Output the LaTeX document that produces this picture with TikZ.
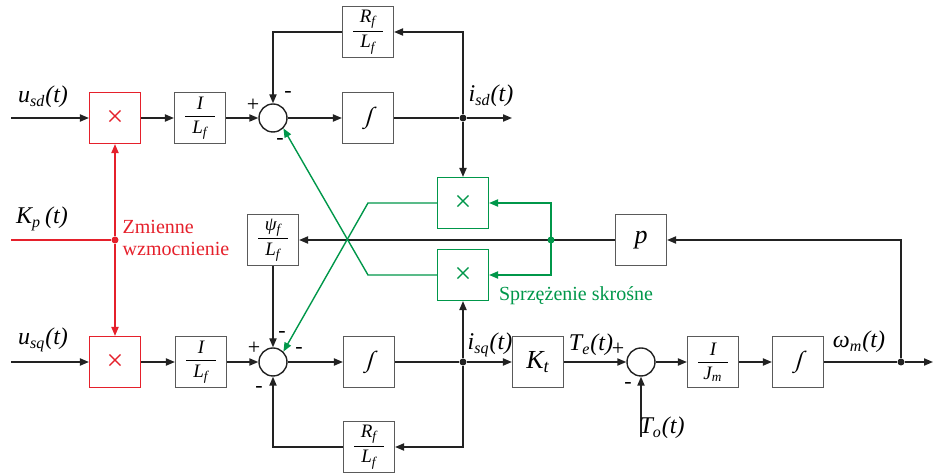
\documentclass[tikz,border=0pt]{standalone}
\usepackage{amsmath}
\usepackage{fontspec}
\setmainfont{Liberation Serif}
\newfontfamily\slantfont{Liberation Serif}[FakeSlant=0.28]
\usetikzlibrary{arrows.meta,positioning,calc}
\definecolor{ink}{HTML}{222222}
\definecolor{boxc}{HTML}{5A5A5A}
\definecolor{zred}{HTML}{E5202B}
\definecolor{zgreen}{HTML}{00974A}
\newcommand{\blkfrac}[2]{$\dfrac{\makebox[15pt]{#1}}{\makebox[15pt]{#2}}$}
\tikzset{
  blk/.style={draw=boxc,fill=white,line width=0.6pt,minimum width=25.5pt,minimum height=25.5pt,inner sep=0pt,font=\fontsize{9.5}{10}\selectfont\itshape},
  intblk/.style={blk,font=\fontsize{11.5}{12}\selectfont\slantfont},
  mulr/.style={blk,draw=zred,text=zred,font=\fontsize{15}{15}\selectfont},
  mulg/.style={blk,draw=zgreen,text=zgreen,font=\fontsize{15}{15}\selectfont},
  sumc/.style={circle,draw=ink,fill=white,line width=0.7pt,minimum size=14pt,inner sep=0pt},
  jdot/.style={circle,fill=ink,inner sep=0pt,minimum size=3.5pt},
  wire/.style={ink,line width=0.7pt},
  sig/.style={wire,-{Triangle[length=4.5pt,width=3.6pt]}},
  rsig/.style={sig,zred},
  gsig/.style={sig,zgreen},
  lbl/.style={font=\fontsize{12}{14}\selectfont\itshape,inner sep=0pt},
  pm/.style={font=\fontsize{11}{11}\selectfont,inner sep=0pt},
}

\begin{document}
\begin{tikzpicture}[x=0.5pt,y=-0.5pt]
  \useasboundingbox (0,0) rectangle (934,475);
  % ===================== d axis =====================
  \coordinate (usd) at (11,118);
  \node[mulr] (xsd) at (115,118) {×};
  \node[blk] (lsd) at (200,118) {\blkfrac{I}{L\textsubscript{f}}};
  \node[sumc] (ssd) at (273,118) {};
  \node[intblk] (isd) at (368,118) {∫};
  \node[blk] (rsd) at (368,32) {\blkfrac{R\textsubscript{f}}{L\textsubscript{f}}};
  \node[jdot] (jsd) at (463,118) {};
  \coordinate (osd) at (512,118);
  \draw[sig] (usd) -- (xsd);
  \draw[sig] (xsd) -- (lsd);
  \draw[sig] (lsd) -- (ssd);
  \draw[sig] (ssd) -- (isd);
  \draw[wire] (isd) -- (jsd);
  \draw[sig] (jsd) -- (osd);
  \draw[sig] (jsd) |- (rsd);
  \draw[sig] (rsd) -| (ssd);
  \node[lbl] at (43,97) {u\textsubscript{sd}(t)};
  \node[lbl] at (491,96) {i\textsubscript{sd}(t)};
  \node[pm] at (253,105) {+};
  \node[pm] at (288,95) {-};
  \node[pm] at (280,142) {-};
  % ===================== q axis and mechanics =====================
  \coordinate (usq) at (11,362);
  \node[mulr] (xsq) at (115,362) {×};
  \node[blk] (lsq) at (201,362) {\blkfrac{I}{L\textsubscript{f}}};
  \node[sumc] (ssq) at (273,362) {};
  \node[intblk] (isq) at (369,362) {∫};
  \node[blk] (rsq) at (369,447) {\blkfrac{R\textsubscript{f}}{L\textsubscript{f}}};
  \node[jdot] (jsq) at (463,362) {};
  \node[blk,font=\fontsize{13}{13}\selectfont\itshape] (kt) at (538,362) {K\textsubscript{t}};
  \node[sumc] (ste) at (641,362) {};
  \node[blk] (jm) at (713,362) {\blkfrac{I}{J\textsubscript{m}}};
  \node[intblk] (iw) at (798,362) {∫};
  \node[jdot] (jw) at (901,362) {};
  \coordinate (ow) at (933,362);
  \coordinate (to) at (641,437);
  \draw[sig] (usq) -- (xsq);
  \draw[sig] (xsq) -- (lsq);
  \draw[sig] (lsq) -- (ssq);
  \draw[sig] (ssq) -- (isq);
  \draw[wire] (isq) -- (jsq);
  \draw[sig] (jsq) -- (kt);
  \draw[sig] (jsq) |- (rsq);
  \draw[sig] (rsq) -| (ssq);
  \draw[sig] (kt) -- (ste);
  \draw[sig] (ste) -- (jm);
  \draw[sig] (jm) -- (iw);
  \draw[wire] (iw) -- (jw);
  \draw[sig] (jw) -- (ow);
  \draw[sig] (to) -- (ste);
  \node[lbl] at (43,340) {u\textsubscript{sq}(t)};
  \node[lbl] at (490,345) {i\textsubscript{sq}(t)};
  \node[lbl] at (591,345) {T\textsubscript{e}(t)};
  \node[lbl] at (859,342) {ω\textsubscript{m}(t)};
  \node[lbl] at (662,428) {T\textsubscript{o}(t)};
  \node[pm] at (254,348) {+};
  \node[pm] at (282,335) {-};
  \node[pm] at (299,351) {-};
  \node[pm] at (259,390) {-};
  \node[pm] at (618,349) {+};
  \node[pm] at (628,386) {-};
  % ===================== cross coupling =====================
  \coordinate (kp) at (11,240);
  \node[jdot,fill=zred] (jk) at (115,240) {};
  \node[blk] (psi) at (273,240) {\blkfrac{ψ\textsubscript{f}}{L\textsubscript{f}}};
  \node[mulg] (gsd) at (463,203) {×};
  \node[mulg] (gsq) at (463,275) {×};
  \node[blk,font=\fontsize{13}{13}\selectfont\itshape] (pb) at (641,240) {p};
  \coordinate (jg) at (551,240);
  \coordinate (gk1) at (368,203);
  \coordinate (gk2) at (368,275);
  \draw[zred,line width=0.75pt] (kp) -- (jk);
  \draw[rsig] (jk) -- (xsd);
  \draw[rsig] (jk) -- (xsq);
  \draw[sig] (pb) -- (psi);
  \draw[sig] (psi) -- (ssq);
  \draw[sig] (jw) |- (pb);
  \draw[sig] (jsd) -- (gsd);
  \draw[sig] (jsq) -- (gsq);
  \draw[gsig] (gsd) -- (gk1) -- (ssq.45);
  \draw[gsig] (gsq) -- (gk2) -- (ssd.-45);
  \draw[gsig] (jg) |- (gsd);
  \draw[gsig] (jg) |- (gsq);
  \node[jdot,fill=zgreen] (jgd) at (jg) {};
  \node[lbl] at (42,219) {K\textsubscript{p}\,(t)};
  \node[zred,align=left,font=\fontsize{10}{11}\selectfont] at (176,238) {Zmienne\\wzmocnienie};
  \node[zgreen,font=\fontsize{10}{11}\selectfont] at (576,296) {Sprzężenie skrośne};
\end{tikzpicture}
\end{document}
